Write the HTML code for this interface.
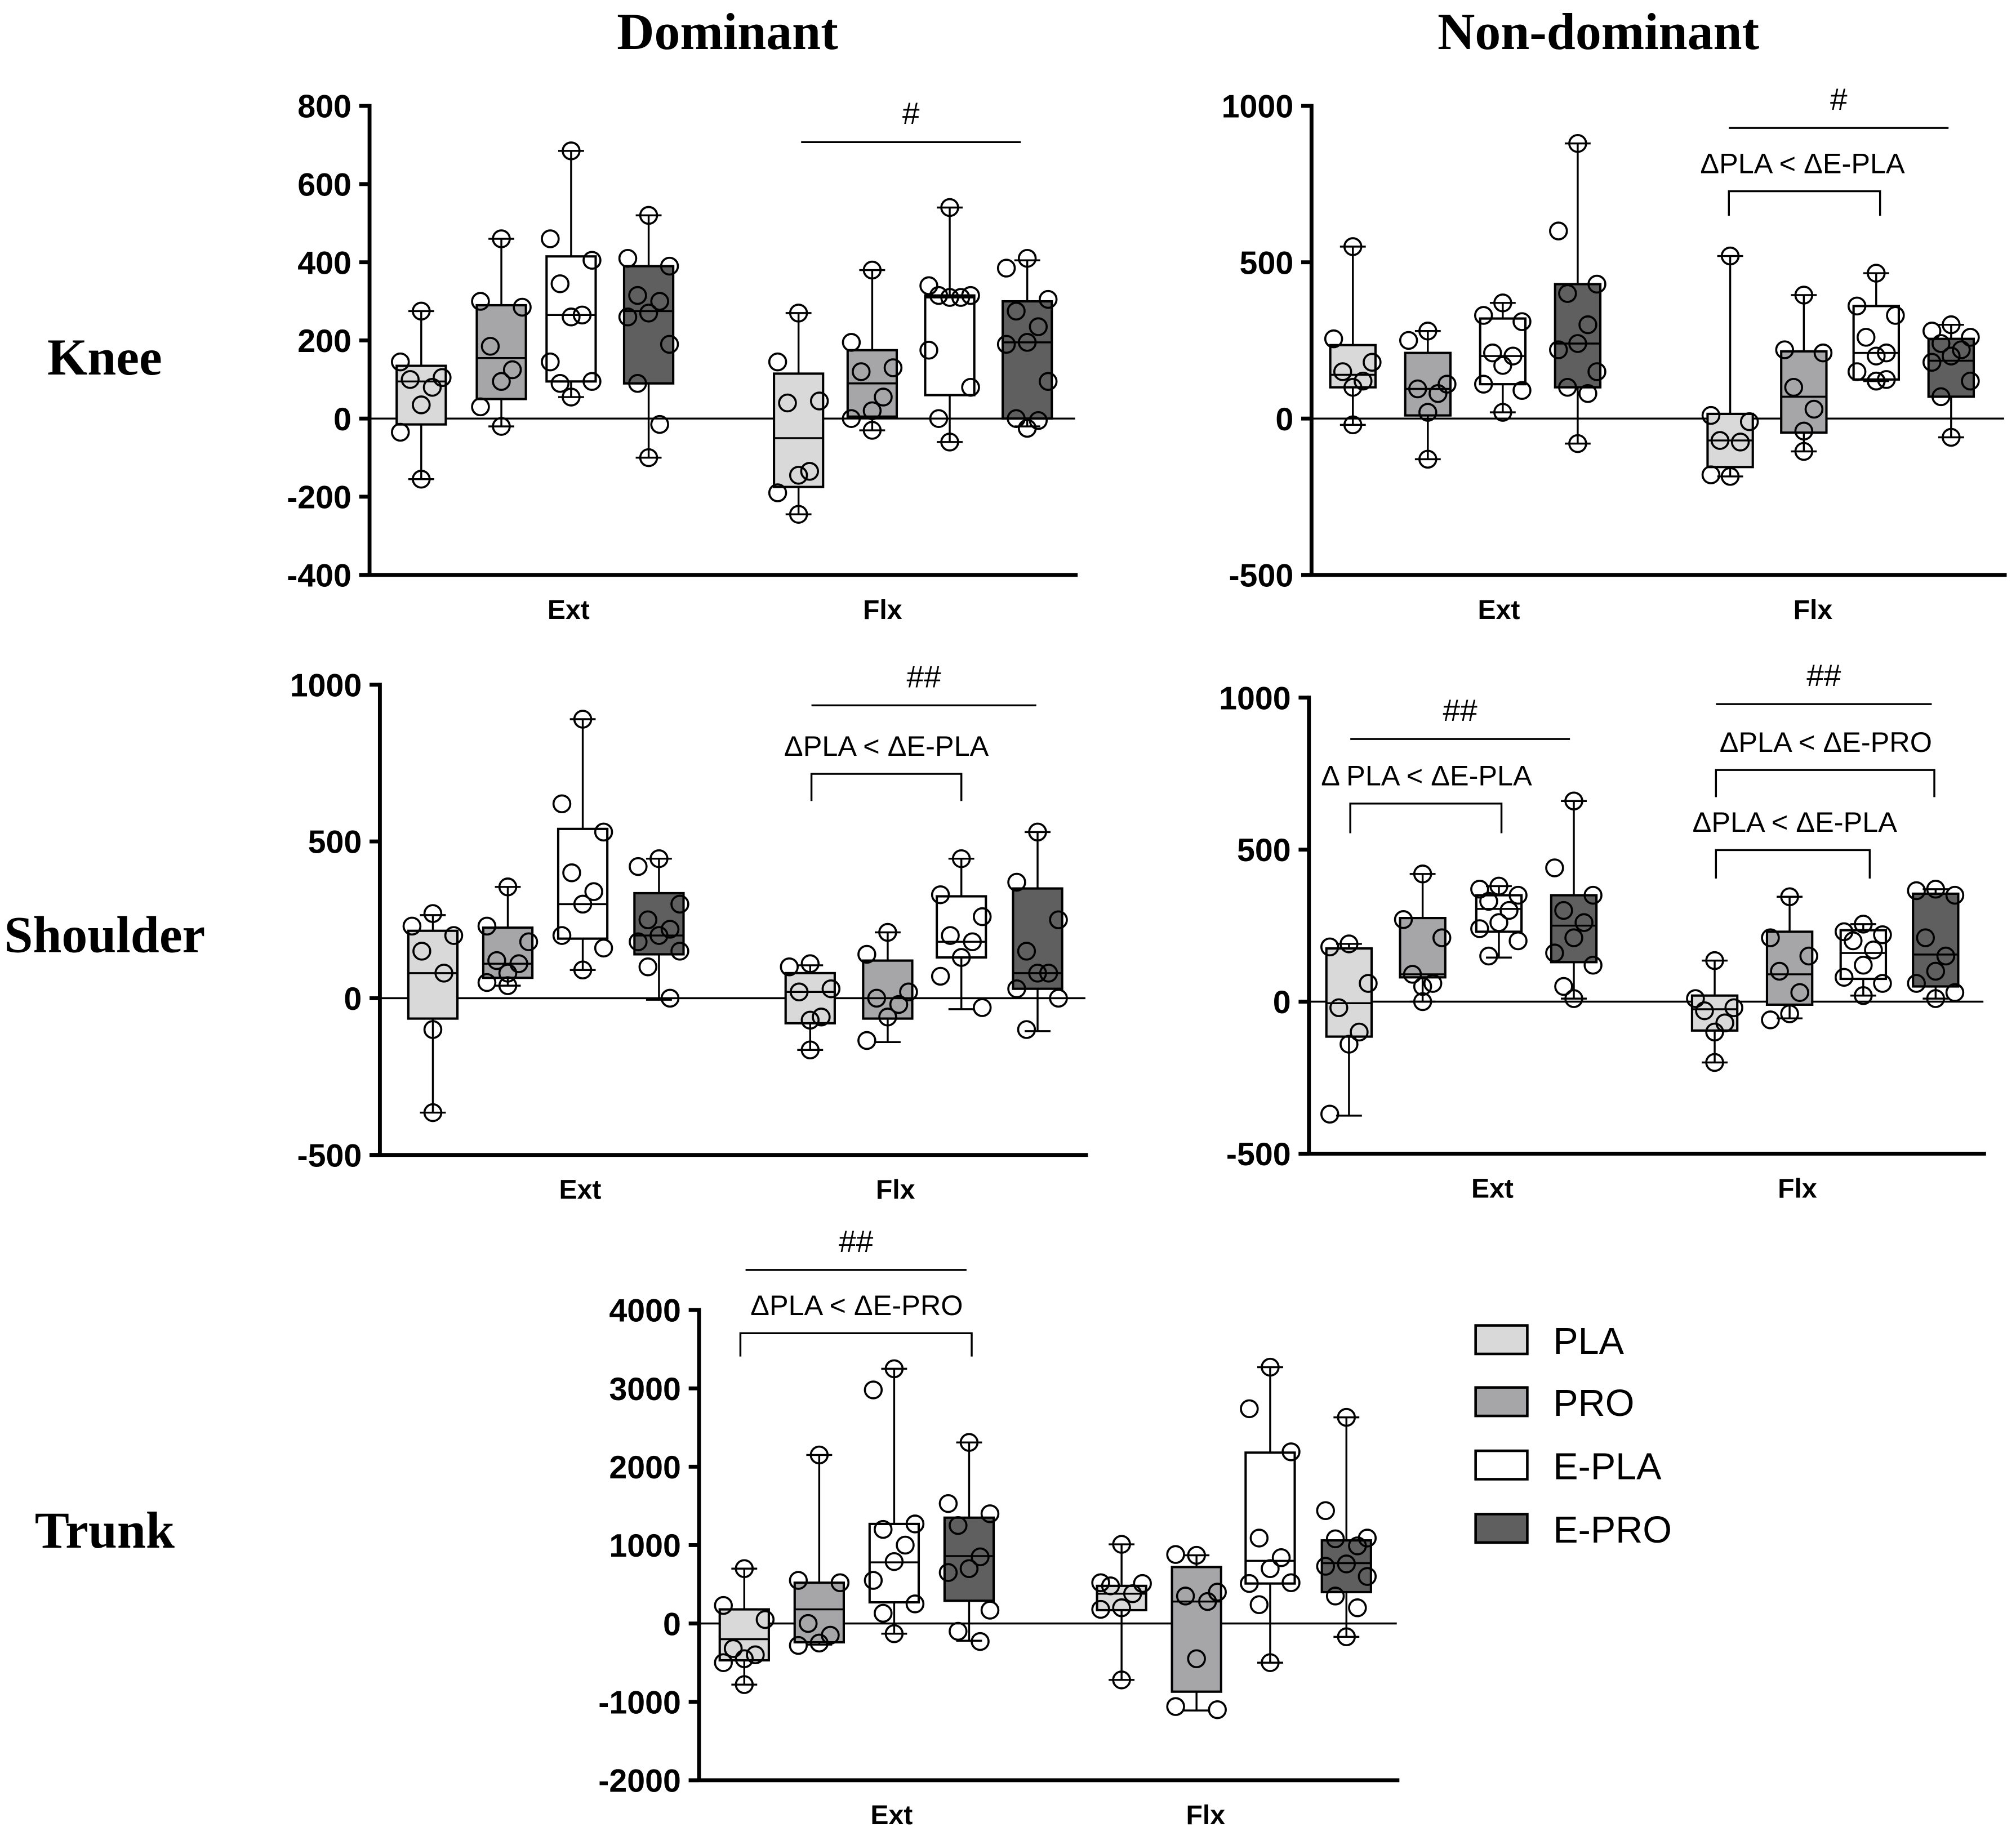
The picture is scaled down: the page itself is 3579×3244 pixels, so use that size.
<!DOCTYPE html>
<html><head><meta charset="utf-8">
<style>
html,body{margin:0;padding:0;background:#fff;}
svg{display:block;}
.tick{font-family:"Liberation Sans",sans-serif;font-weight:bold;font-size:25px;}
.cat{font-family:"Liberation Sans",sans-serif;font-weight:bold;font-size:21px;}
.ann{font-family:"Liberation Sans",sans-serif;font-size:22px;}
.hash{font-family:"Liberation Sans",sans-serif;font-size:24px;}
.title{font-family:"Liberation Serif",serif;font-weight:bold;font-size:40px;}
.leg{font-family:"Liberation Sans",sans-serif;font-size:29px;}
</style></head>
<body>
<svg id="fig" width="3579" height="3244" viewBox="0 0 1560.2 1414.2" preserveAspectRatio="none" xmlns="http://www.w3.org/2000/svg">
<text class="title" x="563" y="38" text-anchor="middle">Dominant</text>
<text class="title" x="1237" y="38" text-anchor="middle">Non-dominant</text>
<text class="title" x="81" y="290" text-anchor="middle">Knee</text>
<text class="title" x="81" y="737" text-anchor="middle">Shoulder</text>
<text class="title" x="81" y="1198" text-anchor="middle">Trunk</text>
<g>
<rect x="1142" y="1026" width="40" height="22" fill="#d9d9d9" stroke="#000" stroke-width="2"/>
<text class="leg" x="1202" y="1048">PLA</text>
<rect x="1142" y="1074" width="40" height="22" fill="#a6a6a8" stroke="#000" stroke-width="2"/>
<text class="leg" x="1202" y="1096">PRO</text>
<rect x="1142" y="1123" width="40" height="22" fill="#fff" stroke="#000" stroke-width="2"/>
<text class="leg" x="1202" y="1145">E-PLA</text>
<rect x="1142" y="1172" width="40" height="22" fill="#5f5f5f" stroke="#000" stroke-width="2"/>
<text class="leg" x="1202" y="1194">E-PRO</text>
</g>
</svg>
<script>
const groups = ["PLA","PRO","E-PLA","E-PRO"];
const categories = ["Ext","Flx"];
// each box: [min, q1, median, q3, max]
const kneeDomBoxes = [[-155,-15,95,135,275],[-20,50,155,290,460],[55,95,265,415,685],[-100,90,275,390,520],
  [-245,-175,-50,115,270],[-30,5,90,175,380],[-60,60,310,315,540],[-20,0,195,300,405]];
const kneeDomPoints = [[275,145,105,100,80,35,-35,-155],[460,300,285,185,125,95,30,-20],[685,460,405,345,265,260,145,95,90,55],[520,410,390,315,300,270,260,190,90,-15,-100],
  [270,145,45,40,-135,-145,-190,-245],[380,195,130,120,55,20,0,-30],[540,340,315,315,310,310,175,80,0,-60],[410,385,305,275,235,195,190,95,0,-5,-25]];
const kneeNonBoxes = [[-20,100,140,235,550],[-130,10,95,210,280],[20,110,200,320,370],[-80,100,240,430,880],
  [-185,-155,-70,15,520],[-105,-45,70,215,395],[120,125,210,360,465],[-60,70,185,255,300]];
const kneeNonPoints = [[550,255,180,150,120,100,-20],[280,250,110,95,80,20,-130],[370,330,310,210,200,170,110,90,20],[880,600,430,400,300,240,220,150,100,80,-80],
  [520,10,-10,-70,-75,-185,-180],[395,220,210,100,30,-40,-105],[465,360,330,260,210,200,150,120,120,125],[300,280,260,240,220,200,180,120,70,-60]];
const shDomBoxes = [[-365,-65,80,215,265],[40,65,110,225,355],[90,190,300,540,890],[-5,140,200,335,445],
  [-165,-80,20,80,105],[-140,-65,0,120,210],[-35,130,180,325,445],[-105,30,80,350,530]];
const shDomPoints = [[270,230,200,150,80,-100,-365],[355,230,180,120,110,80,50,40],[890,620,530,400,340,300,200,160,90],[445,420,300,250,220,200,180,150,100,0],
  [110,100,30,20,-60,-70,-165],[210,140,20,0,-20,-60,-135],[445,330,260,200,180,130,70,-30],[530,370,250,150,80,80,30,0,-100]];
const shNonBoxes = [[-375,-115,-5,175,190],[0,80,90,275,420],[145,230,305,350,380],[10,130,250,350,660],
  [-200,-95,-25,20,135],[-55,-10,90,230,345],[20,75,160,235,255],[10,50,155,355,370]];
const shNonPoints = [[190,180,60,-20,-100,-140,-370],[420,270,210,90,60,50,0],[380,370,350,330,300,260,240,200,150],[660,440,350,300,260,210,160,120,50,10],
  [135,10,-20,-30,-70,-100,-200],[345,210,150,100,30,-40,-60],[255,230,220,200,170,120,80,60,20],[370,365,350,210,150,100,60,30,10]];
const trunkBoxes = [[-780,-470,-200,180,700],[-270,-240,180,520,2150],[-130,270,780,1270,3250],[-220,290,860,1350,2310],
  [-720,170,380,480,1010],[-1110,-870,280,720,870],[-500,510,800,2180,3270],[-170,400,770,1060,2630]];
const trunkPoints = [[700,230,50,-320,-400,-450,-500,-780],[2150,550,520,0,-150,-250,-280],[3250,2980,1270,1200,1000,790,550,250,130,-130],[2310,1530,1400,1250,850,700,650,170,-100,-230],
  [1010,520,510,480,380,200,180,-720],[870,880,400,350,280,-450,-1060,-1100],[3270,2740,2190,1090,840,700,510,520,240,-500],[2630,1440,1090,1080,990,760,730,600,350,200,-170]];
const kneeDomTicks = [800,600,400,200,0,-200,-400];
const kneeNonTicks = [1000,500,0,-500];
const shTicks = [1000,500,0,-500];
const trunkTicks = [4000,3000,2000,1000,0,-1000,-2000];

const fills = ["#d9d9d9","#a6a6a8","#ffffff","#5f5f5f"];
const jit = [0,-17,17,-9,9,0,-17,17,-9,9,0];
const NS = "http://www.w3.org/2000/svg";
const fig = document.getElementById("fig");
function mk(tag, attrs, parent){const e=document.createElementNS(NS,tag);for(const k in attrs)e.setAttribute(k,attrs[k]);(parent||fig).appendChild(e);return e;}

function panel(cfg){
  const g = mk("g",{});
  
  
  const yMax=cfg.ticks[0], yMin=cfg.ticks[cfg.ticks.length-1];
  const y = v => cfg.yTop + (yMax - v)/(yMax - yMin)*(cfg.yBot - cfg.yTop);
  const ya = mk("line",{x1:cfg.ax,y1:cfg.yTop-1.5,x2:cfg.ax,y2:cfg.yBot,stroke:"#000","stroke-width":3},g);
  
  
  const xa = mk("line",{x1:cfg.ax-8,y1:cfg.yBot,x2:cfg.xEnd,y2:cfg.yBot,stroke:"#000","stroke-width":3},g);
  
  
  const zl = mk("line",{x1:cfg.ax,y1:y(0),x2:cfg.xEnd-2,y2:y(0),stroke:"#000","stroke-width":1.5},g);
  
  
  cfg.ticks.forEach(t=>{
    mk("line",{x1:cfg.ax-8,y1:y(t),x2:cfg.ax,y2:y(t),stroke:"#000","stroke-width":3},g);
    const tx = mk("text",{x:cfg.ax-14,y:y(t)+9,"text-anchor":"end",class:"tick"},g);
    tx.textContent=t;
    
    
  });
  categories.forEach((c,i)=>{
    const tx = mk("text",{x:cfg.catX[i],y:cfg.yBot+34,"text-anchor":"middle",class:"cat"},g);
    tx.textContent=c;
    
    
  });
  cfg.boxes.forEach((b,i)=>{
    const cx = cfg.cx[i], w = cfg.bw, cap = 10;
    const bg = mk("g",{},g);
    
    
    mk("rect",{x:cx-w/2,y:y(b[3]),width:w,height:Math.max(1,y(b[1])-y(b[3])),fill:fills[i%4],stroke:"#000","stroke-width":1.8},bg);
    mk("line",{x1:cx,y1:y(b[4]),x2:cx,y2:y(b[3]),stroke:"#000","stroke-width":1.5},bg);
    mk("line",{x1:cx,y1:y(b[1]),x2:cx,y2:y(b[0]),stroke:"#000","stroke-width":1.5},bg);
    mk("line",{x1:cx-cap,y1:y(b[4]),x2:cx+cap,y2:y(b[4]),stroke:"#000","stroke-width":1.5},bg);
    mk("line",{x1:cx-cap,y1:y(b[0]),x2:cx+cap,y2:y(b[0]),stroke:"#000","stroke-width":1.5},bg);
    mk("line",{x1:cx-w/2,y1:y(b[2]),x2:cx+w/2,y2:y(b[2]),stroke:"#000","stroke-width":1.5},bg);
    cfg.points[i].forEach((p,k)=>{
      const isExt = (p===b[0]||p===b[4]);
      const pc = mk("circle",{cx:isExt?cx:cx+jit[k%jit.length]*w/40,cy:y(p),r:6.5,fill:"none",stroke:"#000","stroke-width":1.6},bg);
      
      
    });
  });
  (cfg.sigs||[]).forEach(s=>{
    const sl = mk("line",{x1:s[0],y1:s[2],x2:s[1],y2:s[2],stroke:"#000","stroke-width":1.5},g);
    
    
    const st = mk("text",{x:(s[0]+s[1])/2,y:s[2]-14,"text-anchor":"middle",class:"hash"},g);
    st.textContent=s[3];
    
    
  });
  (cfg.brackets||[]).forEach(s=>{
    const bp = mk("path",{d:`M${s[0]},${s[3]} V${s[2]} H${s[1]} V${s[3]}`,fill:"none",stroke:"#000","stroke-width":1.5},g);
    
    
    const bt = mk("text",{x:s[5],y:s[2]-14,"text-anchor":"middle",class:"ann"},g);
    bt.textContent=s[4];
    
    
  });
}

panel({name:"knee-dominant-chart",ticks:kneeDomTicks,ax:286,yTop:82,yBot:445,xEnd:834,catX:[440,683],bw:38,
  cx:[326,388,442,502,618,675,735,795],boxes:kneeDomBoxes,points:kneeDomPoints,sigs:[[620,790,110,"#"]]});
panel({name:"knee-non-dominant-chart",ticks:kneeNonTicks,ax:1015,yTop:82,yBot:445,xEnd:1553,catX:[1160,1403],bw:35,
  cx:[1047,1105,1163,1221,1339,1396,1452,1510],boxes:kneeNonBoxes,points:kneeNonPoints,sigs:[[1338,1508,99,"#"]],
  brackets:[[1338,1455,148,167,"ΔPLA < ΔE-PLA",1395]]});
panel({name:"shoulder-dominant-chart",ticks:shTicks,ax:294,yTop:530,yBot:894,xEnd:842,catX:[449,693],bw:38,
  cx:[335,393,451,510,627,687,744,803],boxes:shDomBoxes,points:shDomPoints,sigs:[[628,802,546,"##"]],
  brackets:[[628,744,599,620,"ΔPLA < ΔE-PLA",686]]});
panel({name:"shoulder-non-dominant-chart",ticks:shTicks,ax:1013,yTop:540,yBot:893,xEnd:1537,catX:[1155,1391],bw:35,
  cx:[1044,1101,1160,1218,1327,1385,1442,1498],boxes:shNonBoxes,points:shNonPoints,
  sigs:[[1045,1215,572,"##"],[1328,1495,545,"##"]],
  brackets:[[1045,1162,622,645,"Δ PLA < ΔE-PLA",1104],[1328,1497,596,617,"ΔPLA < ΔE-PRO",1413],[1328,1447,658,680,"ΔPLA < ΔE-PLA",1389]]});
panel({name:"trunk-chart",ticks:trunkTicks,ax:541,yTop:1014,yBot:1378,xEnd:1083,catX:[690,933],bw:38,
  cx:[576,634,692,750,868,926,983,1042],boxes:trunkBoxes,points:trunkPoints,sigs:[[577,748,983,"##"]],
  brackets:[[573,752,1032,1050,"ΔPLA < ΔE-PRO",663]]});
</script>
</body></html>
